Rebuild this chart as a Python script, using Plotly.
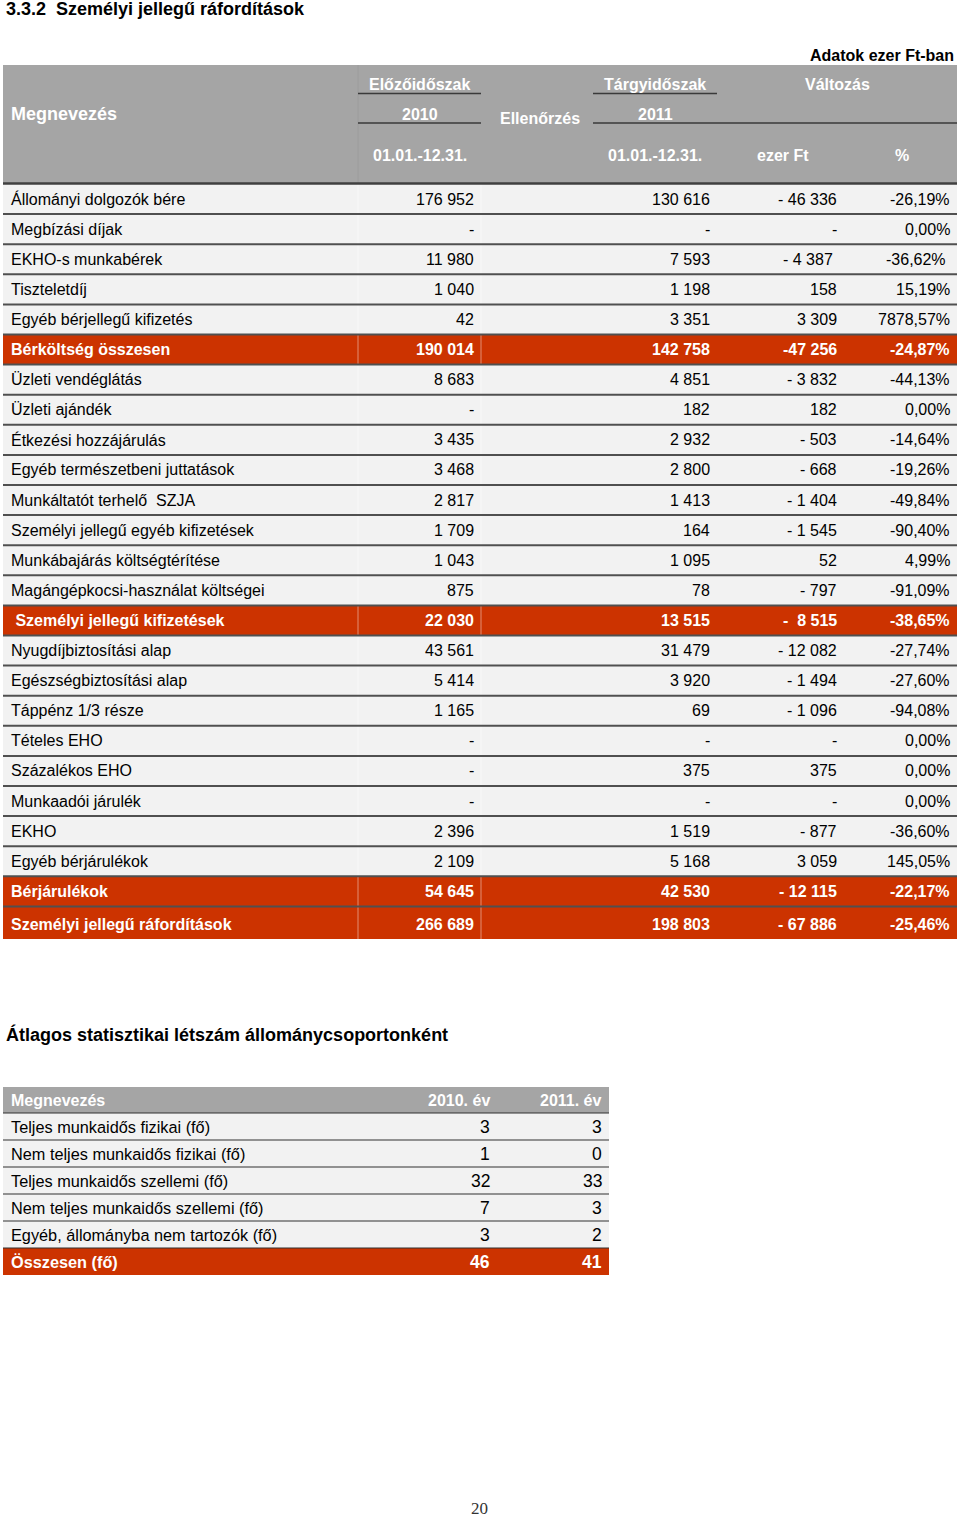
import plotly.graph_objects as go

# ---------------- data ----------------
title_main = "3.3.2  Személyi jellegű ráfordítások"
unit_note = "Adatok ezer Ft-ban"

labels1 = ["Állományi dolgozók bére", "Megbízási díjak", "EKHO-s munkabérek", "Tiszteletdíj",
           "Egyéb bérjellegű kifizetés", "Bérköltség összesen", "Üzleti vendéglátás", "Üzleti ajándék",
           "Étkezési hozzájárulás", "Egyéb természetbeni juttatások", "Munkáltatót terhelő  SZJA",
           "Személyi jellegű egyéb kifizetések", "Munkábajárás költségtérítése",
           "Magángépkocsi-használat költségei", " Személyi jellegű kifizetések", "Nyugdíjbiztosítási alap",
           "Egészségbiztosítási alap", "Táppénz 1/3 része", "Tételes EHO", "Százalékos EHO",
           "Munkaadói járulék", "EKHO", "Egyéb bérjárulékok", "Bérjárulékok", "Személyi jellegű ráfordítások"]
prev2010 = ["176 952", "-", "11 980", "1 040", "42", "190 014", "8 683", "-", "3 435", "3 468", "2 817",
            "1 709", "1 043", "875", "22 030", "43 561", "5 414", "1 165", "-", "-", "-", "2 396",
            "2 109", "54 645", "266 689"]
cur2011 = ["130 616", "-", "7 593", "1 198", "3 351", "142 758", "4 851", "182", "2 932", "2 800", "1 413",
           "164", "1 095", "78", "13 515", "31 479", "3 920", "69", "-", "375", "-", "1 519", "5 168",
           "42 530", "198 803"]
change_eft = ["- 46 336", "-", "- 4 387\u00a0", "158", "3 309", "-47 256", "- 3 832", "182", "- 503", "- 668",
              "- 1 404", "- 1 545", "52", "- 797", "-  8 515", "- 12 082", "- 1 494", "- 1 096", "-", "375",
              "-", "- 877", "3 059", "- 12 115", "- 67 886"]
change_pct = ["-26,19%", "0,00%", "-36,62%\u00a0", "15,19%", "7878,57%", "-24,87%", "-44,13%", "0,00%",
              "-14,64%", "-19,26%", "-49,84%", "-90,40%", "4,99%", "-91,09%", "-38,65%", "-27,74%",
              "-27,60%", "-94,08%", "0,00%", "0,00%", "0,00%", "-36,60%", "145,05%", "-22,17%", "-25,46%"]
total_rows1 = [5, 14, 23, 24]

hdr_name = "Megnevezés"
hdr_prev = ["Előzőidőszak", "2010", "01.01.-12.31."]
hdr_check = "Ellenőrzés"
hdr_cur = ["Tárgyidőszak", "2011", "01.01.-12.31."]
hdr_change = ["Változás", "ezer Ft", "%"]

title2 = "Átlagos statisztikai létszám állománycsoportonként"
hdr2 = ["Megnevezés", "2010. év", "2011. év"]
labels2 = ["Teljes munkaidős fizikai (fő)", "Nem teljes munkaidős fizikai (fő)",
           "Teljes munkaidős szellemi (fő)", "Nem teljes munkaidős szellemi (fő)",
           "Egyéb, állományba nem tartozók (fő)", "Összesen (fő)"]
staff2010 = [3, 1, 32, 7, 3, 46]
staff2011 = [3, 0, 33, 3, 2, 41]
total_rows2 = [5]

page_no = "20"

# ---------------- styles ----------------
W, H = 960, 1517
FONT = "Liberation Sans, Arial, Helvetica, sans-serif"
GRAY = "#a5a5a5"
RED = "#cc3300"
ROWBG = "#f2f2f2"
LINE = "#505050"

shapes = []
ann = []


def rect(x0, x1, y0, y1, color):
    shapes.append(dict(type="rect", xref="x", yref="y", x0=x0, x1=x1, y0=y0, y1=y1,
                       fillcolor=color, line=dict(width=0), layer="below"))


def hline(x0, x1, y, color=LINE, w=2):
    shapes.append(dict(type="line", xref="x", yref="y", x0=x0, x1=x1, y0=y, y1=y,
                       line=dict(color=color, width=w)))


def vline(x, y0, y1, color, w=1):
    shapes.append(dict(type="line", xref="x", yref="y", x0=x, x1=x, y0=y0, y1=y1,
                       line=dict(color=color, width=w)))


def text(x, y, s, anchor="left", size=16, bold=False, color="#000000", family=FONT):
    ann.append(dict(x=x, y=y, xref="x", yref="y", text=f"<b>{s}</b>" if bold else s,
                    showarrow=False, xanchor=anchor, yanchor="middle", borderpad=0,
                    font=dict(family=family, size=size, color=color)))


# ---------------- page title ----------------
text(5, 9, title_main, size=18, bold=True)
text(955, 55, unit_note, anchor="right", size=16, bold=True)

# ---------------- table 1 ----------------
T1_L, T1_R = 3, 957
HDR_TOP, HDR_BOT = 65, 184
C_LAB, C_PREV, C_CHECK, C_CUR, C_CHG, C_PCT = 358, 481, 593, 717, 840, T1_R
ROW_H = 30.1

rect(T1_L, T1_R, HDR_TOP, HDR_BOT, GRAY)
vline(C_LAB, HDR_TOP, HDR_BOT, "#9c9c9c", 1)
text(10, 114, hdr_name, size=18, bold=True, color="white")
for s, y in zip(hdr_prev, [84, 114, 155]):
    text((C_LAB + C_PREV) / 2, y, s, anchor="center", bold=True, color="white")
text(540, 118, hdr_check, anchor="center", bold=True, color="white")
for s, y in zip(hdr_cur, [84, 114, 155]):
    text((C_CHECK + C_CUR) / 2, y, s, anchor="center", bold=True, color="white")
text(837, 84, hdr_change[0], anchor="center", bold=True, color="white")
text(783, 155, hdr_change[1], anchor="center", bold=True, color="white")
text(902, 155, hdr_change[2], anchor="center", bold=True, color="white")
hline(C_LAB, C_PREV, 93.5, "#3a3a3a", 1.5)
hline(C_LAB, C_PREV, 123, "#3a3a3a", 1.5)
hline(C_CHECK, C_CUR, 93.5, "#3a3a3a", 1.5)
hline(C_CHECK, T1_R, 123, "#3a3a3a", 1.5)

n1 = len(labels1)
tops = [HDR_BOT + ROW_H * i for i in range(n1)]
bots = [t + ROW_H for t in tops]
bots[-1] = 939
for i in range(n1):
    tot = i in total_rows1
    rect(T1_L, T1_R, tops[i], bots[i], RED if tot else ROWBG)
    yc = (tops[i] + bots[i]) / 2 + (1.5 if i == n1 - 1 else 0)
    col = "white" if tot else "#000000"
    text(9.5, yc, labels1[i], bold=tot, color=col)
    text(475, yc, prev2010[i], anchor="right", bold=tot, color=col)
    text(711, yc, cur2011[i], anchor="right", bold=tot, color=col)
    text(838, yc, change_eft[i], anchor="right", bold=tot, color=col)
    text(951, yc, change_pct[i], anchor="right", bold=tot, color=col)
vline(C_LAB, HDR_BOT, bots[-1], "rgba(255,255,255,0.45)", 1)
vline(C_PREV, HDR_BOT, bots[-1], "rgba(255,255,255,0.45)", 1)
hline(T1_L, T1_R, HDR_BOT - 0.5, "#404040", 2.5)
for i in range(n1 - 1):
    hline(T1_L, T1_R, bots[i], LINE, 2)

# ---------------- table 2 ----------------
text(5, 1034, title2, size=18, bold=True)
T2_L, T2_R = 3, 609
H2_TOP, H2_BOT = 1087, 1113
ROW2_H = 27
rect(T2_L, T2_R, H2_TOP, H2_BOT, GRAY)
yh = (H2_TOP + H2_BOT) / 2
text(9.5, yh, hdr2[0], bold=True, color="white")
text(491, yh, hdr2[1], anchor="right", bold=True, color="white")
text(603, yh, hdr2[2], anchor="right", bold=True, color="white")
for j in range(len(labels2)):
    t = H2_BOT + ROW2_H * j
    b = t + ROW2_H
    tot = j in total_rows2
    rect(T2_L, T2_R, t, b, RED if tot else ROWBG)
    col = "white" if tot else "#000000"
    yc = (t + b) / 2
    text(9.5, yc, labels2[j], size=16.3, bold=tot, color=col)
    text(491, yc, str(staff2010[j]), anchor="right", size=17.5, bold=tot, color=col)
    text(603, yc, str(staff2011[j]), anchor="right", size=17.5, bold=tot, color=col)
    hline(T2_L, T2_R, t, "#303030", 1.2)

# ---------------- page number ----------------
text(479, 1508, page_no, anchor="center", size=17, color="#333333",
     family="Liberation Serif, Times New Roman, serif")

fig = go.Figure(go.Scatter(x=[0, W], y=[0, H], mode="markers", marker=dict(opacity=0),
                           hoverinfo="skip", showlegend=False))
fig.update_layout(
    width=W, height=H, margin=dict(l=0, r=0, t=0, b=0, pad=0, autoexpand=False),
    paper_bgcolor="white", plot_bgcolor="white",
    xaxis=dict(range=[0, W], visible=False, fixedrange=True),
    yaxis=dict(range=[H, 0], visible=False, fixedrange=True),
    shapes=shapes, annotations=ann, showlegend=False,
)
fig.write_html(
    "out.html",
    config=dict(displayModeBar=False),
    post_script=("document.documentElement.style.margin='0';"
                 "document.body.style.margin='0';document.body.style.padding='0';"
                 "document.body.style.overflow='hidden';"
                 "document.documentElement.style.overflow='hidden';"),
)
